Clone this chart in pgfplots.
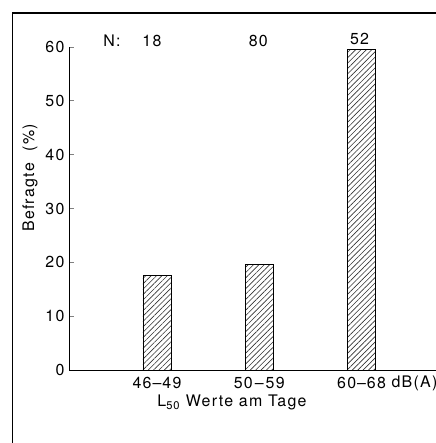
\documentclass[border=0pt]{standalone}
\usepackage{fontspec}
\setmainfont[LetterSpace=8]{TeX Gyre Heros}
\usepackage{pgfplots}
\pgfplotsset{compat=1.18}
\usetikzlibrary{patterns.meta}

\begin{document}
\begin{tikzpicture}[x=1bp,y=1bp,font=\fontsize{16}{19}\selectfont]
\path[use as bounding box] (0,0) rectangle (436,443);
% frame of the original figure
\draw[line width=1.3pt] (12.5,-5) -- (12.5,430) -- (450,430);
\begin{axis}[
  at={(69bp,73bp)}, anchor=south west,
  scale only axis, width=370.3bp, height=323bp,
  xmin=0.14, xmax=3.76, ymin=0, ymax=60,
  axis lines=left, axis line style={-, line width=0.8pt},
  ytick={0,10,...,60},
  xtick={1,2,3},
  xticklabels={46\kern1pt--\kern1pt49, 50\kern2pt--\kern2pt59, 60\kern1pt--\kern1pt68},
  xtick style={draw=none},
  ytick style={line width=0.8pt},
  tick align=inside, major tick length=5bp,
  tick label style={font=\fontsize{16}{19}\selectfont},
  yticklabel style={xshift=-1bp},
  xticklabel style={yshift=1bp},
  /pgf/number format/assume math mode=true,
  ybar, bar width=28bp,
  clip=false,
]
\addplot[draw=black, line width=0.9pt,
  pattern={Lines[angle=45,distance=3.8bp,line width=0.65bp]},
  pattern color=black!80]
coordinates {(1,17.5) (2,19.6) (3,59.5)};
\node[anchor=base] at (axis cs:0.56,60.1) {N:};
\node[anchor=base] at (axis cs:0.95,60.1) {18};
\node[anchor=base] at (axis cs:1.99,60.1) {80};
\node[anchor=base] at (axis cs:2.98,60.4) {52};
\end{axis}
\node[anchor=base west] at (388,55) {dB(A)};
\node[rotate=90] at (30,265) {Befragte\ \ (\%)};
\node[anchor=base] at (232,36) {L\textsubscript{50} Werte am Tage};
\end{tikzpicture}
\end{document}
